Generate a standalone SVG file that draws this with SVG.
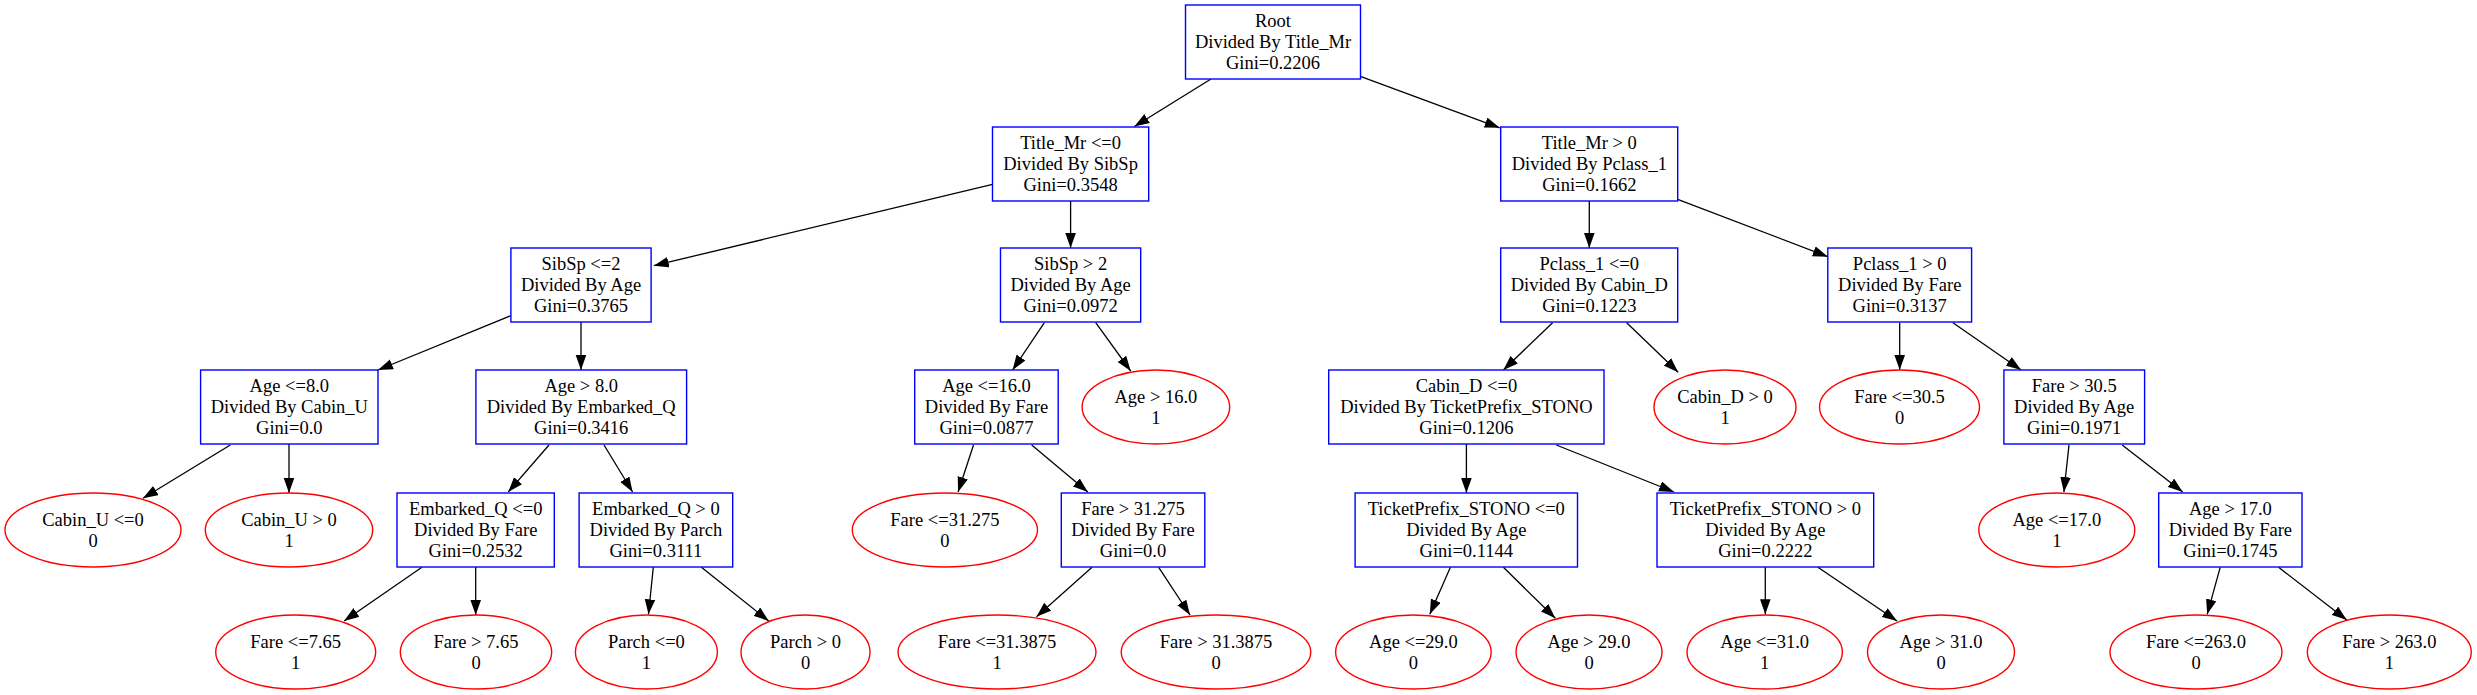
<svg xmlns="http://www.w3.org/2000/svg" width="2477" height="695" viewBox="0 0 2477 695">
<style>
.b{fill:#fff;stroke:#0000ff;stroke-width:1.4}
.e{fill:#fff;stroke:#ff0000;stroke-width:1.4}
text{font-family:"Liberation Serif","Times New Roman",serif;font-size:18.5px;text-anchor:middle;fill:#000}
.c line{stroke:#000;stroke-width:1.3;marker-end:url(#a)}
</style>
<defs>
<marker id="a" markerUnits="userSpaceOnUse" markerWidth="16" markerHeight="11" refX="15" refY="5.3" orient="auto">
<path d="M0,0 L15,5.3 L0,10.6 Z" fill="#000"/>
</marker>
</defs>
<rect width="2477" height="695" fill="#fff"/>
<g class="c" id="connectors">
<line x1="1211" y1="79" x2="1134.4" y2="126.5"/>
<line x1="1361" y1="76.7" x2="1499.7" y2="127.8"/>
<line x1="992.5" y1="184.3" x2="653.8" y2="265.7"/>
<line x1="1070.6" y1="201" x2="1070.6" y2="248"/>
<line x1="1589.3" y1="201" x2="1589.3" y2="248"/>
<line x1="1677.7" y1="199.3" x2="1827.8" y2="256.7"/>
<line x1="510.9" y1="315.7" x2="378" y2="370"/>
<line x1="581" y1="322" x2="581" y2="370"/>
<line x1="1044.4" y1="322.7" x2="1012.6" y2="370"/>
<line x1="1095.7" y1="322.7" x2="1130.7" y2="371"/>
<line x1="1552.6" y1="322.7" x2="1503.4" y2="370"/>
<line x1="1626.7" y1="322.7" x2="1678.2" y2="372.3"/>
<line x1="1899.7" y1="322.7" x2="1899.7" y2="370"/>
<line x1="1952.9" y1="322.7" x2="2021.1" y2="370"/>
<line x1="230.3" y1="445" x2="143" y2="498.3"/>
<line x1="289" y1="444" x2="289" y2="493"/>
<line x1="549" y1="445" x2="508.2" y2="492"/>
<line x1="604" y1="445" x2="632.6" y2="492"/>
<line x1="973.5" y1="445" x2="958.1" y2="492"/>
<line x1="1031.7" y1="445" x2="1087.8" y2="492"/>
<line x1="1466.4" y1="444" x2="1466.4" y2="493"/>
<line x1="1556.3" y1="445" x2="1674" y2="492"/>
<line x1="2069" y1="445" x2="2063.9" y2="492"/>
<line x1="2122.2" y1="445" x2="2182.7" y2="492"/>
<line x1="421.9" y1="567.3" x2="344.1" y2="621"/>
<line x1="475.7" y1="567" x2="475.7" y2="615"/>
<line x1="653.3" y1="567.3" x2="648.5" y2="614.3"/>
<line x1="701.4" y1="567.3" x2="768.7" y2="621"/>
<line x1="1092" y1="567.3" x2="1036.5" y2="616.7"/>
<line x1="1158.7" y1="567.3" x2="1190" y2="615"/>
<line x1="1450.4" y1="567.3" x2="1429.8" y2="614.3"/>
<line x1="1503.4" y1="567.3" x2="1555.3" y2="618.3"/>
<line x1="1765.3" y1="567.3" x2="1765.3" y2="614.3"/>
<line x1="1817.9" y1="567.3" x2="1897.1" y2="621"/>
<line x1="2220.2" y1="567.3" x2="2207.2" y2="614.3"/>
<line x1="2278.6" y1="567.3" x2="2346.8" y2="620"/>
</g>
<g id="n0"><rect class="b" x="1185.5" y="5" width="175" height="74"/><text x="1273" y="27.3">Root</text><text x="1273" y="48">Divided By Title_Mr</text><text x="1273" y="68.7">Gini=0.2206</text></g>
<g id="n1"><rect class="b" x="992.5" y="127" width="156.2" height="74"/><text x="1070.6" y="149.3">Title_Mr &lt;=0</text><text x="1070.6" y="170">Divided By SibSp</text><text x="1070.6" y="190.7">Gini=0.3548</text></g>
<g id="n2"><rect class="b" x="1500.7" y="127" width="177" height="74"/><text x="1589.3" y="149.3">Title_Mr &gt; 0</text><text x="1589.3" y="170">Divided By Pclass_1</text><text x="1589.3" y="190.7">Gini=0.1662</text></g>
<g id="n3"><rect class="b" x="510.9" y="248" width="140.2" height="74"/><text x="581" y="270.3">SibSp &lt;=2</text><text x="581" y="291">Divided By Age</text><text x="581" y="311.7">Gini=0.3765</text></g>
<g id="n4"><rect class="b" x="1000.5" y="248" width="140.2" height="74"/><text x="1070.6" y="270.3">SibSp &gt; 2</text><text x="1070.6" y="291">Divided By Age</text><text x="1070.6" y="311.7">Gini=0.0972</text></g>
<g id="n5"><rect class="b" x="1500.7" y="248" width="177" height="74"/><text x="1589.3" y="270.3">Pclass_1 &lt;=0</text><text x="1589.3" y="291">Divided By Cabin_D</text><text x="1589.3" y="311.7">Gini=0.1223</text></g>
<g id="n6"><rect class="b" x="1827.8" y="248" width="143.8" height="74"/><text x="1899.7" y="270.3">Pclass_1 &gt; 0</text><text x="1899.7" y="291">Divided By Fare</text><text x="1899.7" y="311.7">Gini=0.3137</text></g>
<g id="n7"><rect class="b" x="200.6" y="370" width="177.4" height="74"/><text x="289.3" y="392.3">Age &lt;=8.0</text><text x="289.3" y="413">Divided By Cabin_U</text><text x="289.3" y="433.7">Gini=0.0</text></g>
<g id="n8"><rect class="b" x="475.9" y="370" width="210.7" height="74"/><text x="581.2" y="392.3">Age &gt; 8.0</text><text x="581.2" y="413">Divided By Embarked_Q</text><text x="581.2" y="433.7">Gini=0.3416</text></g>
<g id="n9"><rect class="b" x="914.7" y="370" width="143.5" height="74"/><text x="986.5" y="392.3">Age &lt;=16.0</text><text x="986.5" y="413">Divided By Fare</text><text x="986.5" y="433.7">Gini=0.0877</text></g>
<g id="n10"><ellipse class="e" cx="1155.9" cy="407" rx="73.8" ry="37"/><text x="1155.9" y="403.2">Age &gt; 16.0</text><text x="1155.9" y="423.7">1</text></g>
<g id="n11"><rect class="b" x="1328.7" y="370" width="275.3" height="74"/><text x="1466.4" y="392.3">Cabin_D &lt;=0</text><text x="1466.4" y="413">Divided By TicketPrefix_STONO</text><text x="1466.4" y="433.7">Gini=0.1206</text></g>
<g id="n12"><ellipse class="e" cx="1725" cy="407" rx="71" ry="37"/><text x="1725" y="403.2">Cabin_D &gt; 0</text><text x="1725" y="423.7">1</text></g>
<g id="n13"><ellipse class="e" cx="1899.5" cy="407" rx="80" ry="37"/><text x="1899.5" y="403.2">Fare &lt;=30.5</text><text x="1899.5" y="423.7">0</text></g>
<g id="n14"><rect class="b" x="2003.9" y="370" width="140.7" height="74"/><text x="2074.2" y="392.3">Fare &gt; 30.5</text><text x="2074.2" y="413">Divided By Age</text><text x="2074.2" y="433.7">Gini=0.1971</text></g>
<g id="n15"><ellipse class="e" cx="93" cy="530" rx="88" ry="37"/><text x="93" y="526.2">Cabin_U &lt;=0</text><text x="93" y="546.7">0</text></g>
<g id="n16"><ellipse class="e" cx="289" cy="530" rx="83.7" ry="37"/><text x="289" y="526.2">Cabin_U &gt; 0</text><text x="289" y="546.7">1</text></g>
<g id="n17"><rect class="b" x="397" y="493" width="157.3" height="74"/><text x="475.7" y="515.3">Embarked_Q &lt;=0</text><text x="475.7" y="536">Divided By Fare</text><text x="475.7" y="556.7">Gini=0.2532</text></g>
<g id="n18"><rect class="b" x="579.1" y="493" width="153.6" height="74"/><text x="655.9" y="515.3">Embarked_Q &gt; 0</text><text x="655.9" y="536">Divided By Parch</text><text x="655.9" y="556.7">Gini=0.3111</text></g>
<g id="n19"><ellipse class="e" cx="944.9" cy="530" rx="92.6" ry="37"/><text x="944.9" y="526.2">Fare &lt;=31.275</text><text x="944.9" y="546.7">0</text></g>
<g id="n20"><rect class="b" x="1061.3" y="493" width="143.5" height="74"/><text x="1133" y="515.3">Fare &gt; 31.275</text><text x="1133" y="536">Divided By Fare</text><text x="1133" y="556.7">Gini=0.0</text></g>
<g id="n21"><rect class="b" x="1355.1" y="493" width="222.4" height="74"/><text x="1466.3" y="515.3">TicketPrefix_STONO &lt;=0</text><text x="1466.3" y="536">Divided By Age</text><text x="1466.3" y="556.7">Gini=0.1144</text></g>
<g id="n22"><rect class="b" x="1657" y="493" width="216.7" height="74"/><text x="1765.3" y="515.3">TicketPrefix_STONO &gt; 0</text><text x="1765.3" y="536">Divided By Age</text><text x="1765.3" y="556.7">Gini=0.2222</text></g>
<g id="n23"><ellipse class="e" cx="2056.8" cy="530" rx="78" ry="37"/><text x="2056.8" y="526.2">Age &lt;=17.0</text><text x="2056.8" y="546.7">1</text></g>
<g id="n24"><rect class="b" x="2158.7" y="493" width="143.3" height="74"/><text x="2230.4" y="515.3">Age &gt; 17.0</text><text x="2230.4" y="536">Divided By Fare</text><text x="2230.4" y="556.7">Gini=0.1745</text></g>
<g id="n25"><ellipse class="e" cx="295.7" cy="652" rx="80" ry="37"/><text x="295.7" y="648.2">Fare &lt;=7.65</text><text x="295.7" y="668.7">1</text></g>
<g id="n26"><ellipse class="e" cx="476" cy="652" rx="75.7" ry="37"/><text x="476" y="648.2">Fare &gt; 7.65</text><text x="476" y="668.7">0</text></g>
<g id="n27"><ellipse class="e" cx="646.4" cy="652" rx="71" ry="37"/><text x="646.4" y="648.2">Parch &lt;=0</text><text x="646.4" y="668.7">1</text></g>
<g id="n28"><ellipse class="e" cx="805.5" cy="652" rx="64.5" ry="37"/><text x="805.5" y="648.2">Parch &gt; 0</text><text x="805.5" y="668.7">0</text></g>
<g id="n29"><ellipse class="e" cx="997" cy="652" rx="99" ry="37"/><text x="997" y="648.2">Fare &lt;=31.3875</text><text x="997" y="668.7">1</text></g>
<g id="n30"><ellipse class="e" cx="1216" cy="652" rx="94.8" ry="37"/><text x="1216" y="648.2">Fare &gt; 31.3875</text><text x="1216" y="668.7">0</text></g>
<g id="n31"><ellipse class="e" cx="1413.4" cy="652" rx="77.8" ry="37"/><text x="1413.4" y="648.2">Age &lt;=29.0</text><text x="1413.4" y="668.7">0</text></g>
<g id="n32"><ellipse class="e" cx="1589" cy="652" rx="73" ry="37"/><text x="1589" y="648.2">Age &gt; 29.0</text><text x="1589" y="668.7">0</text></g>
<g id="n33"><ellipse class="e" cx="1764.7" cy="652" rx="77.7" ry="37"/><text x="1764.7" y="648.2">Age &lt;=31.0</text><text x="1764.7" y="668.7">1</text></g>
<g id="n34"><ellipse class="e" cx="1941" cy="652" rx="73.5" ry="37"/><text x="1941" y="648.2">Age &gt; 31.0</text><text x="1941" y="668.7">0</text></g>
<g id="n35"><ellipse class="e" cx="2196" cy="652" rx="86" ry="37"/><text x="2196" y="648.2">Fare &lt;=263.0</text><text x="2196" y="668.7">0</text></g>
<g id="n36"><ellipse class="e" cx="2389.3" cy="652" rx="82" ry="37"/><text x="2389.3" y="648.2">Fare &gt; 263.0</text><text x="2389.3" y="668.7">1</text></g>
</svg>
